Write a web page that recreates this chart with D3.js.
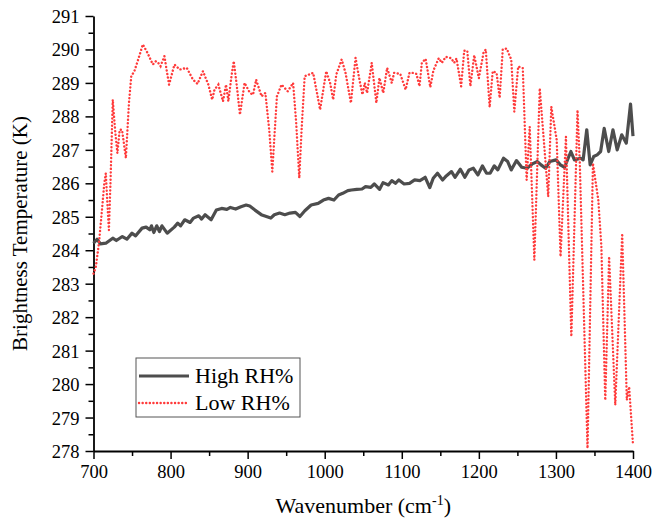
<!DOCTYPE html>
<meta charset="utf-8">
<div id="chart"></div>
<style>
body { margin: 0; background: #fff; }
text { font-family: 'Liberation Serif', 'Times New Roman', serif; fill: #000; }
</style>
<script src="https://d3js.org/d3.v7.min.js"></script>
<script>
// High RH% series (wavenumber cm-1, brightness temperature K)
var highWn = [700, 704.6, 709, 716, 725, 729.6, 737.4, 743.3, 750, 754.7, 763, 768.3, 773, 775.2, 778.3, 782, 785.6, 788.8,
  795.6, 804.8, 809.3, 813, 818.4, 825.3, 829.8, 836.6, 840.3, 844.8, 852.6, 859.4, 866.2, 873, 877.6, 884.4, 891.3, 898,
  902.7, 909.5, 918.6, 930, 934.6, 941.4, 948.2, 955, 962, 967.8, 974.2, 982.4, 991.5, 998.3, 1005, 1012, 1018, 1023.4,
  1030, 1034.7, 1041.6, 1048.4, 1053, 1059.8, 1064.3, 1071.2, 1075.7, 1082.6, 1087, 1091.7, 1096.2, 1103, 1110, 1116.7,
  1123.5, 1130.4, 1136.3, 1140.8, 1146.3, 1153, 1157.7, 1164.5, 1169, 1176, 1181.8, 1187.3, 1192.8, 1198.7, 1204.6, 1210,
  1214.6, 1220, 1224.6, 1232, 1237.4, 1242, 1248.8, 1255.6, 1262.4, 1269.3, 1276, 1280.7, 1286.6, 1292, 1300.2, 1305.7,
  1311.2, 1319.4, 1324, 1332, 1335.3, 1340, 1344.4, 1349, 1353.5, 1358, 1362.6, 1368.5, 1374, 1379.5, 1385.4, 1391.3,
  1396.8, 1400];
var highT = [284.21, 284.33, 284.19, 284.21, 284.36, 284.29, 284.41, 284.33, 284.51, 284.43, 284.66, 284.69, 284.61, 284.73,
  284.53, 284.73, 284.56, 284.73, 284.51, 284.69, 284.81, 284.73, 284.91, 284.83, 284.96, 285.03, 284.93, 285.06, 284.91,
  285.2, 285.25, 285.22, 285.28, 285.23, 285.3, 285.35, 285.32, 285.2, 285.05, 284.96, 285.06, 285.11, 285.06, 285.11,
  285.13, 285.01, 285.18, 285.35, 285.4, 285.5, 285.55, 285.5, 285.65, 285.7, 285.78, 285.8, 285.82, 285.83, 285.9, 285.88,
  285.98, 285.82, 286.02, 285.95, 286.08, 286.0, 286.1, 285.98, 286.0, 286.1, 286.08, 286.18, 285.87, 286.15, 286.3, 286.1,
  286.22, 286.35, 286.18, 286.42, 286.18, 286.4, 286.45, 286.25, 286.52, 286.3, 286.3, 286.52, 286.4, 286.75, 286.65,
  286.4, 286.68, 286.48, 286.45, 286.58, 286.65, 286.55, 286.45, 286.65, 286.7, 286.55, 286.48, 286.95, 286.7, 286.75,
  286.7, 287.6, 286.55, 286.8, 286.85, 286.95, 287.64, 286.95, 287.6, 287.0, 287.45, 287.2, 288.37, 287.41];

// Low RH% series
var lowWn = [700, 703, 707, 711, 714, 716, 718, 720, 722, 725, 728, 731, 734, 737, 740, 742, 746, 749, 753, 758, 764, 770,
  777, 781, 784, 787, 792, 798, 801, 805, 812, 821, 829, 835, 842, 849, 854, 857, 862, 868, 872, 875, 879, 882, 886, 890,
  896, 903, 907, 911, 918, 923, 928, 932, 935, 938, 944, 952, 959, 963, 967, 970, 974, 985, 990, 994, 1002, 1007, 1011,
  1015, 1022, 1027, 1034, 1040, 1045, 1049, 1052, 1055, 1061, 1067, 1071, 1076, 1081, 1087, 1090, 1098, 1105, 1110, 1115,
  1119, 1123, 1126, 1131, 1137, 1141, 1148, 1152, 1157, 1164, 1168, 1171, 1177, 1181, 1185, 1189, 1194, 1200, 1206, 1209,
  1214, 1218, 1223, 1227, 1231, 1236, 1242, 1246, 1251, 1257, 1262, 1266, 1272, 1279, 1290, 1294, 1301, 1306, 1313, 1320,
  1328, 1331, 1341, 1348, 1355, 1359, 1364, 1369, 1377, 1386, 1392, 1395, 1400];
var lowT = [283.3, 283.5, 284.2, 285.2, 286.0, 286.3, 285.4, 284.6, 286.0, 288.5, 287.6, 286.9, 287.6, 287.6, 287.1, 286.75,
  288.4, 289.2, 289.35, 289.7, 290.15, 289.9, 289.55, 289.65, 289.6, 289.5, 289.8, 288.95, 289.2, 289.55, 289.4, 289.45,
  289.1, 288.97, 289.35, 288.95, 288.5, 288.8, 288.95, 288.45, 288.95, 288.45, 289.2, 289.65, 288.9, 288.05, 289.0, 288.7,
  288.65, 289.1, 288.6, 288.7, 287.6, 286.35, 287.5, 288.6, 288.95, 288.75, 289.0, 287.8, 286.15, 287.6, 289.2, 289.3,
  288.7, 288.2, 289.35, 289.0, 288.5, 289.25, 289.7, 289.3, 288.4, 289.75, 289.1, 288.65, 289.0, 288.7, 289.6, 288.4,
  289.15, 288.7, 289.45, 289.0, 289.3, 289.27, 288.8, 289.3, 289.3, 289.27, 288.9, 289.6, 289.72, 288.87, 289.37, 289.74,
  289.6, 289.78, 289.74, 289.6, 289.73, 288.9, 289.96, 289.96, 288.9, 289.83, 289.14, 289.9, 290.0, 288.27, 289.35, 289.3,
  288.55, 290.0, 290.03, 289.7, 288.14, 289.49, 289.44, 286.1, 287.69, 283.71, 288.84, 285.6, 288.29, 287.3, 283.81,
  287.39, 281.42, 288.19, 286.6, 278.08, 286.6, 285.5, 284.1, 279.52, 283.81, 279.37, 284.5, 279.52, 279.92, 278.18];

var xTicks = [700, 800, 900, 1000, 1100, 1200, 1300, 1400];
var yTicks = [278, 279, 280, 281, 282, 283, 284, 285, 286, 287, 288, 289, 290, 291];
var seriesNames = ['High RH%', 'Low RH%'];

var W = 652, H = 524;
var mLeft = 93.5, mTop = 16, mRight = 633, mBottom = 451;

var x = d3.scaleLinear().domain([700, 1400]).range([mLeft, mRight]);
var y = d3.scaleLinear().domain([278, 291]).range([mBottom, mTop]);

var svg = d3.select('#chart').append('svg')
  .attr('width', W)
  .attr('height', H);

// minor ticks
svg.append('g')
  .attr('transform', 'translate(0,' + mBottom + ')')
  .call(d3.axisBottom(x).tickValues(d3.range(750, 1400, 100)).tickSize(5).tickFormat(''))
  .call(function(g){ g.select('.domain').remove(); })
  .selectAll('line').attr('stroke-width', 1.5);
svg.append('g')
  .attr('transform', 'translate(' + mLeft + ',0)')
  .call(d3.axisLeft(y).tickValues(d3.range(278.5, 291, 1)).tickSize(5).tickFormat(''))
  .call(function(g){ g.select('.domain').remove(); })
  .selectAll('line').attr('stroke-width', 1.5);

// major axes
var xAxis = svg.append('g')
  .attr('transform', 'translate(0,' + mBottom + ')')
  .call(d3.axisBottom(x).tickValues(xTicks).tickFormat(d3.format('d')).tickSize(8).tickSizeOuter(0).tickPadding(6));
var yAxis = svg.append('g')
  .attr('transform', 'translate(' + mLeft + ',0)')
  .call(d3.axisLeft(y).tickValues(yTicks).tickFormat(d3.format('d')).tickSize(8).tickSizeOuter(0).tickPadding(6));

[xAxis, yAxis].forEach(function(g){
  g.select('.domain').attr('stroke-width', 1.8);
  g.selectAll('line').attr('stroke-width', 1.5);
  g.selectAll('text')
    .style('font-family', "'Liberation Serif', 'Times New Roman', serif")
    .style('font-size', '18.5px');
});
yAxis.selectAll('text').attr('dy', '0.35em');

// lines
var line = d3.line()
  .x(function(d){ return x(d[0]); })
  .y(function(d){ return y(d[1]); });

var highData = d3.zip(highWn, highT);
var lowData = d3.zip(lowWn, lowT);

svg.append('path')
  .datum(highData)
  .attr('d', line)
  .attr('fill', 'none')
  .attr('stroke', '#4d4d4d')
  .attr('stroke-width', 3.2)
  .attr('stroke-linejoin', 'round');

svg.append('path')
  .datum(lowData)
  .attr('d', line)
  .attr('fill', 'none')
  .attr('stroke', '#ff3a3a')
  .attr('stroke-width', 2.4)
  .attr('stroke-linecap', 'round')
  .attr('stroke-dasharray', '0.1 3.5');

// axis titles
svg.append('text')
  .attr('x', (mLeft + mRight) / 2)
  .attr('y', 513)
  .attr('text-anchor', 'middle')
  .style('font-size', '22px')
  .html('Wavenumber (cm<tspan dy="-8" font-size="14px">-1</tspan><tspan dy="8">)</tspan>');

svg.append('text')
  .attr('transform', 'translate(27,' + ((mTop + mBottom) / 2) + ') rotate(-90)')
  .attr('text-anchor', 'middle')
  .style('font-size', '21px')
  .text('Brightness Temperature (K)');

// legend
var legend = svg.append('g');
legend.append('rect')
  .attr('x', 136).attr('y', 358)
  .attr('width', 164).attr('height', 59)
  .attr('fill', 'white')
  .attr('stroke', '#555')
  .attr('stroke-width', 1);

var legendStyle = [
  { stroke: '#4d4d4d', width: 3.2, dash: null, cap: 'butt' },
  { stroke: '#ff3a3a', width: 2.4, dash: '0.1 3.5', cap: 'round' }
];

seriesNames.forEach(function(name, i){
  var ly = 376 + i * 27;
  legend.append('line')
    .attr('x1', 139).attr('x2', 189)
    .attr('y1', ly).attr('y2', ly)
    .attr('stroke', legendStyle[i].stroke)
    .attr('stroke-width', legendStyle[i].width)
    .attr('stroke-linecap', legendStyle[i].cap)
    .attr('stroke-dasharray', legendStyle[i].dash);
  legend.append('text')
    .attr('x', 195)
    .attr('y', ly + 7)
    .style('font-size', '22px')
    .text(name);
});
</script>
